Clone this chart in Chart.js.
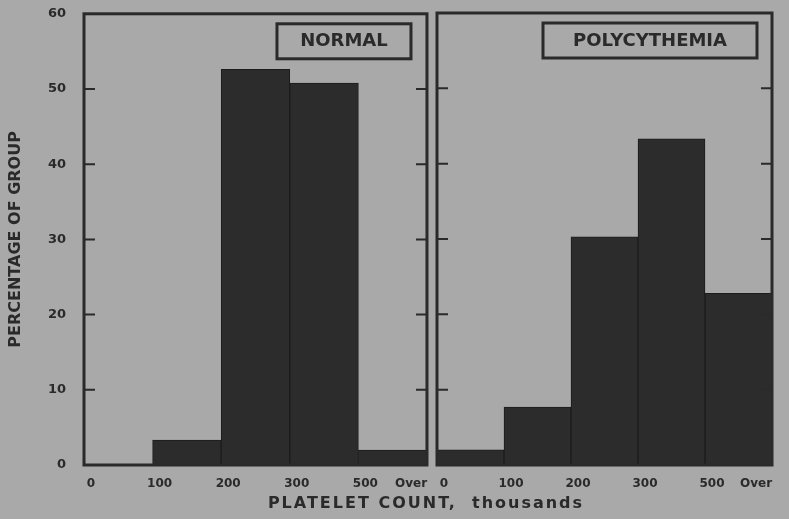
<!DOCTYPE html>
<html>
<head>
<meta charset="utf-8">
<script src="https://cdn.jsdelivr.net/npm/chart.js@4.4.1/dist/chart.umd.min.js"></script>
<style>
  body { margin: 0; background: #a9a9a9; width: 789px; height: 519px; overflow: hidden; position: relative; }
  #left { position: absolute; left: 0; top: -4px; }
  #right { position: absolute; left: 420px; top: 0; }
  #xtitle {
    position: absolute; left: 0; width: 852px; top: 493px; text-align: center;
    font: bold 16px "DejaVu Sans", sans-serif; letter-spacing: 2px; color: #2a2a2a;
  }
</style>
</head>
<body>
<canvas id="left" width="470" height="523"></canvas>
<canvas id="right" width="430" height="519"></canvas>
<div id="xtitle">PLATELET COUNT,&nbsp; thousands</div>
<script>
// bin edges shown under each panel, bars sit between them
const binEdges = ["0", "100", "200", "300", "500", "Over"];
const binMids = [0.5, 1.5, 2.5, 3.5, 4.5];

// percentage of group in each platelet count bin
const normalPct = [0, 3.3, 52.6, 50.8, 2.0];
const polyPct = [2.0, 7.7, 30.3, 43.3, 22.8];

const yTicks = [0, 10, 20, 30, 40, 50, 60];

const ink = "#2a2a2a";
const barColor = "#2c2c2c";

// frame, inward tick marks and the boxed group name
const panelPlugin = {
  id: "panel",
  afterDatasetsDraw(chart, args, opts) {
    const { ctx, chartArea: a, scales } = chart;
    ctx.save();
    ctx.strokeStyle = ink;
    ctx.lineWidth = 2;
    yTicks.forEach((v) => {
      if (v === 0 || v === 60) return;
      const y = scales.y.getPixelForValue(v);
      ctx.beginPath();
      ctx.moveTo(a.left, y);
      ctx.lineTo(a.left + 11, y);
      ctx.moveTo(a.right, y);
      ctx.lineTo(a.right - 11, y);
      ctx.stroke();
    });
    ctx.lineWidth = 3;
    ctx.strokeRect(a.left, a.top, a.right - a.left, a.bottom - a.top);

    // label box
    const bx = a.right - opts.offset - opts.width;
    const by = a.top + 10;
    ctx.lineWidth = 3;
    ctx.strokeRect(bx, by, opts.width, 35);
    ctx.fillStyle = ink;
    ctx.font = "bold 18px 'DejaVu Sans', sans-serif";
    ctx.textAlign = "center";
    ctx.textBaseline = "middle";
    ctx.fillText(opts.label, bx + opts.width / 2, by + 18, opts.width - 30);
    ctx.restore();
  },
};

// last edge label: trailing spaces pull the visible word inside the frame
const edgeLabel = (v) => {
  const i = Math.round(v);
  return i === binEdges.length - 1 ? binEdges[i] + " ".repeat(11) : binEdges[i];
};

function makeChart(el, values, label, boxWidth, boxOffset, showY, padding) {
  return new Chart(el, {
    type: "bar",
    plugins: [panelPlugin],
    data: {
      datasets: [
        {
          data: binMids.map((x, i) => ({ x: x, y: values[i] })),
          backgroundColor: barColor,
          borderColor: "#1c1c1c",
          borderWidth: 1,
          barPercentage: 1,
          categoryPercentage: 1,
        },
      ],
    },
    options: {
      responsive: false,
      animation: false,
      layout: { padding: padding },
      plugins: {
        legend: { display: false },
        tooltip: { enabled: false },
        panel: { label: label, width: boxWidth, offset: boxOffset },
      },
      scales: {
        x: {
          type: "linear",
          offset: false,
          min: 0,
          max: 5,
          grid: { display: false },
          border: { display: false },
          ticks: {
            stepSize: 1,
            autoSkip: false,
            maxRotation: 0,
            padding: 4,
            labelOffset: 7,
            color: ink,
            font: { family: "DejaVu Sans", weight: "bold", size: 12 },
            callback: edgeLabel,
          },
          afterFit: (scale) => { scale.height = 54; },
        },
        y: {
          display: showY,
          min: 0,
          max: 60,
          grid: { display: false },
          border: { display: false },
          ticks: {
            stepSize: 10,
            padding: 10,
            color: ink,
            font: { family: "DejaVu Sans", weight: "bold", size: 13 },
          },
          title: {
            display: true,
            text: "PERCENTAGE OF GROUP",
            color: ink,
            padding: { top: 6, bottom: 0 },
            font: { family: "DejaVu Sans", weight: "bold", size: 16 },
          },
          afterFit: (scale) => { scale.width = showY ? 84 : 0; },
        },
      },
    },
  });
}

makeChart(document.getElementById("left"), normalPct, "NORMAL", 134, 16, true,
  { top: 0, right: 42, bottom: 0, left: 0 });
makeChart(document.getElementById("right"), polyPct, "POLYCYTHEMIA", 214, 15, false,
  { top: 13, right: 78, bottom: 0, left: 17 });
</script>
</body>
</html>
